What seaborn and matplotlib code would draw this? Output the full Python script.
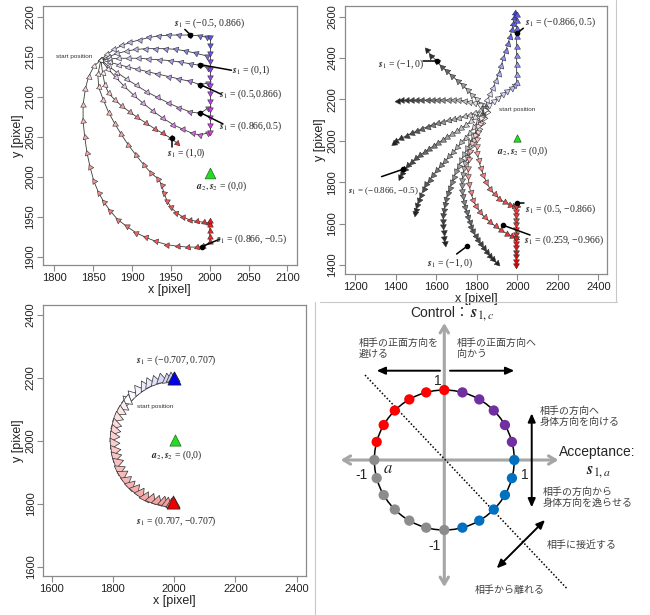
import numpy as np
import pandas as pd
import matplotlib
matplotlib.use("Agg")
import matplotlib.pyplot as plt
import seaborn as sns
from matplotlib.colors import to_rgb
from matplotlib.patches import Circle
from matplotlib.lines import Line2D

sns.set_style("ticks")
plt.rcParams['font.family'] = ['Liberation Sans', 'Noto Sans CJK JP', 'DejaVu Sans']
plt.rcParams['mathtext.fontset'] = 'stix'

# ------------------------------------------------------------------ data
partner = (2000, 2000)

# top-left panel trajectories
A1_x = [1860, 1868, 1877, 1887, 1898, 1910, 1922, 1935, 1948, 1961, 1974, 1987, 1997]
A1_y = [2146, 2153, 2159, 2164, 2168, 2171, 2174, 2176, 2177, 2177, 2177, 2176, 2174]
A2_x = [1860, 1870, 1881, 1893, 1905, 1918, 1931, 1944, 1957, 1970, 1983, 1996]
A2_y = [2146, 2150, 2154, 2157, 2159, 2160, 2160, 2160, 2159, 2157, 2154, 2151]
A3_x = [1860, 1871, 1883, 1896, 1909, 1922, 1936, 1950, 1963, 1976, 1988, 1998]
A3_y = [2146, 2147, 2148, 2148, 2148, 2147, 2146, 2145, 2143, 2141, 2139, 2136]
A4_x = [1860, 1871, 1883, 1895, 1908, 1921, 1934, 1948, 1961, 1975, 1988, 1998]
A4_y = [2146, 2143, 2140, 2137, 2134, 2131, 2128, 2125, 2122, 2119, 2115, 2117]
A5_x = [1860, 1870, 1881, 1893, 1906, 1919, 1933, 1947, 1961, 1975, 1988, 1998]
A5_y = [2146, 2138, 2130, 2122, 2114, 2106, 2099, 2092, 2086, 2081, 2079, 2086]
A6_x = [1860, 1869, 1879, 1890, 1902, 1914, 1927, 1940, 1953, 1966, 1978, 1988, 1998]
A6_y = [2146, 2135, 2124, 2113, 2102, 2092, 2082, 2073, 2065, 2059, 2054, 2052, 2055]
AV_x = [2000, 2000, 2000, 2000, 2000, 2000, 2000, 2000, 2000, 2000, 2000, 2000, 2000]
AV_y = [2175, 2165, 2155, 2145, 2135, 2125, 2115, 2105, 2095, 2085, 2075, 2065, 2056]
A7_x = [1860, 1862, 1865, 1870, 1878, 1887, 1897, 1907, 1918, 1929, 1940, 1950, 1958]
A7_y = [2146, 2130, 2115, 2104, 2096, 2088, 2081, 2074, 2067, 2060, 2054, 2048, 2042]
A8_x = [1860, 1856, 1857, 1863, 1870, 1878, 1886, 1895, 1905, 1915, 1925, 1934, 1938,
        1941, 1945, 1950, 1957, 1965, 1974, 1984, 1993, 1999]
A8_y = [2146, 2128, 2112, 2096, 2080, 2066, 2053, 2040, 2027, 2015, 2004, 1997, 1990,
        1980, 1970, 1962, 1955, 1950, 1946, 1944, 1943, 1942]
A9_x = [1860, 1851, 1844, 1840, 1837, 1837, 1839, 1842, 1846, 1851, 1857, 1864, 1872,
        1882, 1893, 1905, 1918, 1931, 1945, 1959, 1972, 1984, 1992, 2000, 2000, 2000, 2000, 2000]
A9_y = [2146, 2138, 2125, 2110, 2090, 2070, 2050, 2030, 2012, 1994, 1980, 1968, 1957,
        1946, 1938, 1930, 1924, 1919, 1915, 1913, 1912, 1912, 1913, 1918, 1925, 1932, 1939, 1945]

# top-right panel trajectories
B1a_x = [1840, 1852, 1866, 1880, 1895, 1908, 1920, 1932, 1943, 1954, 1964, 1973, 1980, 1985, 1987]
B1a_y = [2160, 2195, 2225, 2255, 2290, 2325, 2362, 2400, 2435, 2470, 2503, 2535, 2565, 2595, 2618]
B1b_x = [1840, 1862, 1884, 1906, 1928, 1950, 1972, 1990, 1997, 1997, 1997, 1997, 1997,
         1997, 1997, 1997, 1997]
B1b_y = [2160, 2175, 2192, 2208, 2224, 2240, 2256, 2270, 2278, 2320, 2365, 2410, 2455,
         2500, 2540, 2580, 2610]
B2_x = [1840, 1820, 1800, 1778, 1755, 1731, 1706, 1680, 1654, 1628, 1602, 1577, 1553]
B2_y = [2160, 2180, 2200, 2222, 2245, 2268, 2290, 2313, 2335, 2358, 2385, 2412, 2440]
B3_x = [1840, 1815, 1790, 1765, 1740, 1714, 1688, 1662, 1636, 1610, 1584, 1558, 1532,
        1506, 1480, 1455, 1430, 1412]
B3_y = [2160, 2175, 2185, 2190, 2193, 2195, 2196, 2197, 2197, 2197, 2197, 2197, 2197,
        2196, 2196, 2195, 2195, 2194]
B4_x = [1840, 1815, 1790, 1765, 1740, 1714, 1688, 1662, 1636, 1610, 1584, 1558, 1532,
        1506, 1480, 1454, 1428, 1402, 1390]
B4_y = [2150, 2142, 2134, 2126, 2119, 2112, 2105, 2099, 2093, 2086, 2078, 2069, 2059,
        2048, 2037, 2025, 2012, 1999, 1990]
B5_x = [1840, 1816, 1793, 1770, 1747, 1724, 1701, 1678, 1655, 1632, 1610, 1588, 1566,
        1544, 1522, 1501, 1481, 1462, 1445, 1430, 1422]
B5_y = [2150, 2131, 2113, 2094, 2077, 2061, 2046, 2032, 2018, 2004, 1990, 1976, 1962,
        1947, 1932, 1916, 1899, 1881, 1862, 1843, 1827]
B6_x = [1845, 1825, 1805, 1785, 1765, 1745, 1725, 1705, 1685, 1665, 1645, 1625, 1605,
        1586, 1568, 1552, 1538, 1526, 1515, 1506, 1499, 1496]
B6_y = [2145, 2118, 2092, 2066, 2040, 2016, 1992, 1969, 1947, 1925, 1903, 1881, 1859,
        1836, 1813, 1789, 1765, 1740, 1715, 1690, 1668, 1650]
B7_x = [1848, 1832, 1816, 1800, 1784, 1768, 1753, 1738, 1724, 1711, 1699, 1687, 1676,
        1666, 1657, 1650, 1644, 1639, 1636, 1635, 1636, 1638, 1641, 1644]
B7_y = [2145, 2114, 2083, 2052, 2021, 1992, 1963, 1935, 1907, 1880, 1853, 1826, 1800,
        1774, 1748, 1721, 1695, 1668, 1641, 1614, 1587, 1560, 1532, 1505]
B8_x = [1852, 1838, 1824, 1810, 1797, 1785, 1773, 1762, 1752, 1744, 1737, 1732, 1729,
        1728, 1729, 1732, 1737, 1744, 1750, 1757, 1765, 1774, 1784, 1795, 1807, 1820,
        1834, 1849, 1864, 1879, 1899]
B8_y = [2140, 2112, 2084, 2056, 2029, 2002, 1975, 1948, 1921, 1894, 1867, 1840, 1813,
        1786, 1759, 1732, 1705, 1678, 1655, 1632, 1609, 1586, 1563, 1541, 1520, 1500,
        1480, 1461, 1444, 1428, 1408]
B9_x = [1840, 1826, 1816, 1808, 1802, 1800, 1802, 1810, 1820, 1833, 1848, 1866, 1888,
        1912, 1938, 1962, 1982, 1997]
B9_y = [2150, 2115, 2080, 2045, 2010, 1975, 1940, 1905, 1870, 1835, 1800, 1768, 1742,
        1720, 1703, 1692, 1686, 1684]
B10_x = [1840, 1822, 1806, 1792, 1778, 1767, 1760, 1757, 1758, 1762, 1770, 1782, 1798,
         1817, 1840, 1866, 1893, 1920, 1948, 1975, 1995]
B10_y = [2150, 2110, 2070, 2030, 1990, 1950, 1910, 1870, 1830, 1790, 1752, 1716, 1684,
         1655, 1630, 1607, 1587, 1568, 1552, 1538, 1530]
BV_x = [1995, 1995, 1995, 1995, 1995, 1995, 1995, 1995, 1995, 1995, 1995, 1995, 1995, 1995]
BV_y = [1684, 1662, 1640, 1618, 1596, 1574, 1552, 1530, 1508, 1486, 1464, 1442, 1420, 1400]

# bottom-left panel trajectories
C1_x = [1847, 1864, 1882, 1900, 1919, 1938, 1958, 1976, 1990, 2000]
C1_y = [2129, 2146, 2162, 2173, 2183, 2190, 2196, 2198, 2200, 2200]
C2_x = [1847, 1834, 1823, 1815, 1808, 1803, 1800, 1800, 1802, 1806, 1812, 1820, 1830,
        1842, 1856, 1871, 1888, 1906, 1925, 1945, 1962, 1976, 1990, 2000]
C2_y = [2129, 2112, 2094, 2075, 2055, 2035, 2014, 1993, 1972, 1952, 1932, 1912, 1894,
        1877, 1861, 1847, 1834, 1823, 1815, 1808, 1804, 1801, 1800, 1800]

# bottom-right diagram: unit-circle sample points (degrees)
red_deg = [90, 105, 120, 135, 150, 165]
gray_deg = [180, 195, 210, 225, 240, 255, 270]
blue_deg = [285, 300, 315, 330, 345, 0]
purple_deg = [15, 30, 45, 60, 75]
dot_colors = {'red': '#ff0000', 'gray': '#8c8c8c', 'blue': '#0070c0', 'purple': '#7030a0'}

TL_xticks = [1800, 1850, 1900, 1950, 2000, 2050, 2100]
TL_yticks = [1900, 1950, 2000, 2050, 2100, 2150, 2200]
TR_xticks = [1200, 1400, 1600, 1800, 2000, 2200, 2400]
TR_yticks = [1400, 1600, 1800, 2000, 2200, 2400, 2600]
BL_xticks = [1600, 1800, 2000, 2200, 2400]
BL_yticks = [1600, 1800, 2000, 2200, 2400]

# ------------------------------------------------------------------ helpers
W, H = 650, 615


def frac(left, top, right, bottom):
    return [left / W, (H - bottom) / H, (right - left) / W, (bottom - top) / H]


def mix(c1, c2, t):
    a = np.array(to_rgb(c1))
    b = np.array(to_rgb(c2))
    return tuple(np.clip(a + (b - a) * t, 0, 1))


def draw_track(ax, xs, ys, end_color, s, orient, start_color='#ffffff', gamma=1.0,
               edge='#303030', lw=0.4):
    xs = np.asarray(xs, float)
    ys = np.asarray(ys, float)
    n = len(xs)
    df = pd.DataFrame({'x': xs, 'y': ys})
    sns.lineplot(data=df, x='x', y='y', sort=False, estimator=None, color='#3a3a3a',
                 linewidth=0.6, ax=ax, zorder=2)
    for i in range(n):
        t = (i / (n - 1)) ** gamma if n > 1 else 1.0
        col = mix(start_color, end_color, t)
        j0, j1 = max(i - 1, 0), min(i + 1, n - 1)
        heading = np.degrees(np.arctan2(ys[j1] - ys[j0], xs[j1] - xs[j0]))
        if orient == 'motion':
            rot = heading - 90
        elif orient == 'left':
            rot = heading
        else:
            rot = np.degrees(np.arctan2(partner[1] - ys[i], partner[0] - xs[i])) - 90
        ax.scatter(xs[i], ys[i], marker=(3, 0, rot), s=s, color=col, edgecolors=edge,
                   linewidths=lw, zorder=3)


def style_r(ax, xlim, ylim, xt, yt):
    ax.set_xlim(*xlim)
    ax.set_ylim(*ylim)
    ax.set_xticks(xt)
    ax.set_yticks(yt)
    for sp in ax.spines.values():
        sp.set_visible(True)
        sp.set_color('#8a8a8a')
        sp.set_linewidth(0.9)
    ax.tick_params(direction='out', length=4, width=0.8, color='#8a8a8a', labelsize=8,
                   pad=1.5, labelcolor='#222222')
    plt.setp(ax.get_yticklabels(), rotation=90, va='center')
    ax.set_xlabel('x [pixel]', fontsize=9, labelpad=1, color='#222222')
    ax.set_ylabel('y [pixel]', fontsize=9, labelpad=1, color='#222222')


SERIF = ['Liberation Serif', 'DejaVu Serif']


def label(ax, x, y, txt, size=7, ha='center'):
    ax.text(x, y, txt, fontsize=size, ha=ha, va='center', family=SERIF, color='#222222',
            zorder=6)


def pointer(ax, x0, y0, x1, y1):
    ax.plot([x0, x1], [y0, y1], color='black', lw=1.1, zorder=5)
    ax.scatter([x1], [y1], s=9, color='black', zorder=6)


def start_text(ax, x, y):
    ax.text(x, y, 'start position', fontsize=4.6, ha='center', va='center',
            color='#333333', zorder=6)


fig = plt.figure(figsize=(6.5, 6.15), dpi=100)

# ------------------------------------------------------------------ top-left
ax1 = fig.add_axes(frac(42.7, 6, 296.7, 265))
tl_s = 22
for xs, ys, c in [(A1_x, A1_y, '#6a6ad8'), (A2_x, A2_y, '#7474d6'), (A3_x, A3_y, '#8a7ad8'),
                  (A4_x, A4_y, '#a070d8'), (A5_x, A5_y, '#b868d8'), (A6_x, A6_y, '#cc55d8')]:
    draw_track(ax1, xs, ys, c, tl_s, 'target', gamma=0.7)
draw_track(ax1, AV_x, AV_y, '#ee33ee', tl_s, 'target', start_color='#5a5ae0', gamma=1.0)
draw_track(ax1, A7_x, A7_y, '#e03535', tl_s, 'target', gamma=0.9)
draw_track(ax1, A8_x, A8_y, '#e82a2a', tl_s, 'target', gamma=0.7)
draw_track(ax1, A9_x, A9_y, '#f01818', tl_s, 'target', gamma=0.7)
sns.scatterplot(x=[partner[0]], y=[2004], marker='^', s=60, color='#22dd22',
                edgecolor='#226622', linewidth=0.5, ax=ax1, zorder=6)
label(ax1, 2000, 2192, r'$\mathbfit{s}_1$ = (−0.5, 0.866)')
pointer(ax1, 1968, 2184, 1975, 2177.5)
label(ax1, 2054, 2133, r'$\mathbfit{s}_1$ = (0,1)')
pointer(ax1, 2028, 2133, 1988, 2140)
label(ax1, 2053, 2103, r'$\mathbfit{s}_1$ = (0.5,0.866)')
pointer(ax1, 2015, 2103, 1988, 2115)
label(ax1, 2053, 2063, r'$\mathbfit{s}_1$ = (0.866,0.5)')
pointer(ax1, 2017, 2066, 1988, 2080)
label(ax1, 1970, 2029, r'$\mathbfit{s}_1$ = (1,0)')
pointer(ax1, 1951, 2037, 1951, 2048)
label(ax1, 2015, 1988, r'$\mathbfit{a}_2, \mathbfit{s}_2$ = (0,0)')
label(ax1, 2054, 1922, r'$\mathbfit{s}_1$ = (0.866, −0.5)')
pointer(ax1, 2013, 1922, 1990, 1912.5)
start_text(ax1, 1826, 2150)
style_r(ax1, (1785, 2112), (1889.6, 2213.3), TL_xticks, TL_yticks)

# ------------------------------------------------------------------ top-right
ax2 = fig.add_axes(frac(345, 6, 607.3, 274))
tr_s = 24
draw_track(ax2, B1a_x, B1a_y, '#3a3af5', tr_s, 'motion', gamma=0.9)
draw_track(ax2, B1b_x, B1b_y, '#5a5af0', tr_s, 'motion', gamma=0.9)
for xs, ys in [(B2_x, B2_y), (B3_x, B3_y), (B4_x, B4_y), (B5_x, B5_y), (B6_x, B6_y),
               (B7_x, B7_y), (B8_x, B8_y)]:
    draw_track(ax2, xs, ys, '#202020', tr_s, 'motion', gamma=0.9)
draw_track(ax2, B9_x, B9_y, '#ee2a2a', tr_s, 'motion', gamma=0.8)
draw_track(ax2, B10_x, B10_y, '#ee2020', tr_s, 'motion', gamma=0.8)
draw_track(ax2, BV_x, BV_y, '#dd0000', tr_s, 'motion', start_color='#f04040', gamma=1.0)
sns.scatterplot(x=[1997], y=[2015], marker='^', s=28, color='#22dd22',
                edgecolor='#226622', linewidth=0.5, ax=ax2, zorder=6)
label(ax2, 2211, 2571, r'$\mathbfit{s}_1$ = (−0.866, 0.5)')
pointer(ax2, 2030, 2544, 1997, 2519)
label(ax2, 1426, 2371, r'$\mathbfit{s}_1$ = (−1, 0)')
pointer(ax2, 1537, 2386, 1606, 2386)
start_text(ax2, 2000, 2149)
label(ax2, 2027, 1948, r'$\mathbfit{a}_2, \mathbfit{s}_2$ = (0,0)')
label(ax2, 1340, 1759, r'$\mathbfit{s}_1$ = (−0.866, −0.5)', size=6.5)
pointer(ax2, 1331, 1827, 1435, 1862)
label(ax2, 2211, 1669, r'$\mathbfit{s}_1$ = (0.5, −0.866)')
pointer(ax2, 2033, 1698, 1997, 1698)
label(ax2, 2230, 1518, r'$\mathbfit{s}_1$ = (0.259, −0.966)')
pointer(ax2, 2063, 1545, 1928, 1593)
label(ax2, 1668, 1408, r'$\mathbfit{s}_1$ = (−1, 0)')
pointer(ax2, 1701, 1453, 1754, 1492)
style_r(ax2, (1150.7, 2444), (1356.5, 2651.5), TR_xticks, TR_yticks)

# ------------------------------------------------------------------ bottom-left
ax3 = fig.add_axes(frac(43.3, 305, 306, 576))
bl_s = 85
draw_track(ax3, C1_x, C1_y, '#c8c8f4', bl_s, 'left', gamma=1.0, lw=0.5)
draw_track(ax3, C2_x, C2_y, '#f49898', bl_s, 'left', gamma=0.6, lw=0.5)
sns.scatterplot(x=[1999], y=[2199], marker='^', s=90, color='#0000ee', edgecolor='#202020',
                linewidth=0.5, ax=ax3, zorder=6)
sns.scatterplot(x=[1997], y=[1806], marker='^', s=90, color='#ee0000', edgecolor='#202020',
                linewidth=0.5, ax=ax3, zorder=6)
sns.scatterplot(x=[2003], y=[2003], marker='^', s=65, color='#22dd22', edgecolor='#226622',
                linewidth=0.5, ax=ax3, zorder=6)
label(ax3, 2008, 2257, r'$\mathbfit{s}_1$ = (−0.707, 0.707)')
start_text(ax3, 1937, 2108)
label(ax3, 2008, 1955, r'$\mathbfit{a}_2, \mathbfit{s}_2$ = (0,0)')
label(ax3, 2008, 1743, r'$\mathbfit{s}_1$ = (0.707, −0.707)')
style_r(ax3, (1572.8, 2430.5), (1570.3, 2431.8), BL_xticks, BL_yticks)

# ------------------------------------------------------------------ bottom-right diagram
ax4 = fig.add_axes([320 / W, 0, 330 / W, 315 / H])
ax4.set_xlim(-1.776, 2.939)
ax4.set_ylim(-2.214, 2.286)
ax4.axis('off')
gray_ax = '#a6a6a6'
ax4.annotate('', xy=(1.63, 0), xytext=(-1.48, 0),
             arrowprops=dict(arrowstyle='<->,head_length=0.5,head_width=0.3', color=gray_ax,
                             lw=2.2, shrinkA=0, shrinkB=0), zorder=1)
ax4.annotate('', xy=(0, 1.957), xytext=(0, -1.814),
             arrowprops=dict(arrowstyle='<->,head_length=0.5,head_width=0.3', color=gray_ax,
                             lw=2.2, shrinkA=0, shrinkB=0), zorder=1)
ax4.add_patch(Circle((0, 0), 1, fill=False, ec='black', lw=1.1, zorder=3))
ax4.plot([-1.133, 1.749], [1.214, -1.833], color='black', lw=1.1, ls=(0, (1, 1.3)), zorder=2)

rows = []
for name, degs in [('red', red_deg), ('gray', gray_deg), ('blue', blue_deg),
                   ('purple', purple_deg)]:
    for d in degs:
        rows.append((np.cos(np.radians(d)), np.sin(np.radians(d)), name))
dots = pd.DataFrame(rows, columns=['a', 'c', 'group'])
sns.scatterplot(data=dots, x='a', y='c', hue='group', palette=dot_colors, s=55,
                edgecolor='none', legend=False, ax=ax4, zorder=5)
ax4.set_xlabel('')
ax4.set_ylabel('')

blk = dict(arrowstyle='-|>,head_length=0.5,head_width=0.22', color='black', lw=1.4,
           shrinkA=0, shrinkB=0)
blk2 = dict(arrowstyle='<|-|>,head_length=0.5,head_width=0.22', color='black', lw=1.4,
            shrinkA=0, shrinkB=0)
ax4.annotate('', xy=(-0.966, 1.276), xytext=(-0.061, 1.276), arrowprops=blk)
ax4.annotate('', xy=(1.0, 1.276), xytext=(0.081, 1.276), arrowprops=blk)
ax4.annotate('', xy=(1.249, 0.667), xytext=(1.249, -0.676), arrowprops=blk2)
ax4.annotate('', xy=(0.749, -1.547), xytext=(1.439, -0.857), arrowprops=blk2)

JP = ['Noto Sans CJK JP']
jp_col = '#404040'
ax4.text(-1.219, 1.743, '相手の正面方向を\n避ける', fontsize=7.2, family=JP, color=jp_col,
         ha='left', va='top', linespacing=1.15)
ax4.text(0.177, 1.743, '相手の正面方向へ\n向かう', fontsize=7.2, family=JP, color=jp_col,
         ha='left', va='top', linespacing=1.15)
ax4.text(1.357, 0.771, '相手の方向へ\n身体方向を向ける', fontsize=7.2, family=JP,
         color=jp_col, ha='left', va='top', linespacing=1.15)
ax4.text(1.406, -0.386, '相手の方向から\n身体方向を逸らせる', fontsize=7.2, family=JP,
         color=jp_col, ha='left', va='top', linespacing=1.15)
ax4.text(1.463, -1.214, '相手に接近する', fontsize=7.2, family=JP, color=jp_col,
         ha='left', va='center')
ax4.text(0.439, -1.857, '相手から離れる', fontsize=7.2, family=JP, color=jp_col,
         ha='left', va='center')

ax4.text(0.36, 2.1, 'Control：', fontsize=10,
         family=['Liberation Sans', 'Noto Sans CJK JP'], ha='right', va='center')
ax4.text(0.37, 2.07, r'$\mathbfit{s}_{1,c}$', fontsize=12, ha='left', va='center')
ax4.text(2.19, 0.119, 'Acceptance:', fontsize=10, ha='center', va='center')
ax4.text(2.21, -0.167, r'$\mathbfit{s}_{1,a}$', fontsize=12, ha='center', va='center')
ax4.text(-0.086, 1.133, '1', fontsize=10, ha='center', va='center')
ax4.text(-0.133, -1.224, '-1', fontsize=10, ha='center', va='center')
ax4.text(1.15, -0.214, '1', fontsize=10, ha='center', va='center')
ax4.text(-1.18, -0.214, '-1', fontsize=10, ha='center', va='center')
ax4.text(-0.8, -0.119, r'$a$', fontsize=12, ha='center', va='center')

# light frame lines between the pasted panels
for xs_, ys_ in [([616, 616], [0, 302]), ([320, 617], [302, 302]), ([315, 315], [302, 615])]:
    fig.add_artist(Line2D([v / W for v in xs_], [(H - v) / H for v in ys_],
                          transform=fig.transFigure, color='#c8c8c8', lw=0.8))

fig.savefig('out.png', dpi=100)
